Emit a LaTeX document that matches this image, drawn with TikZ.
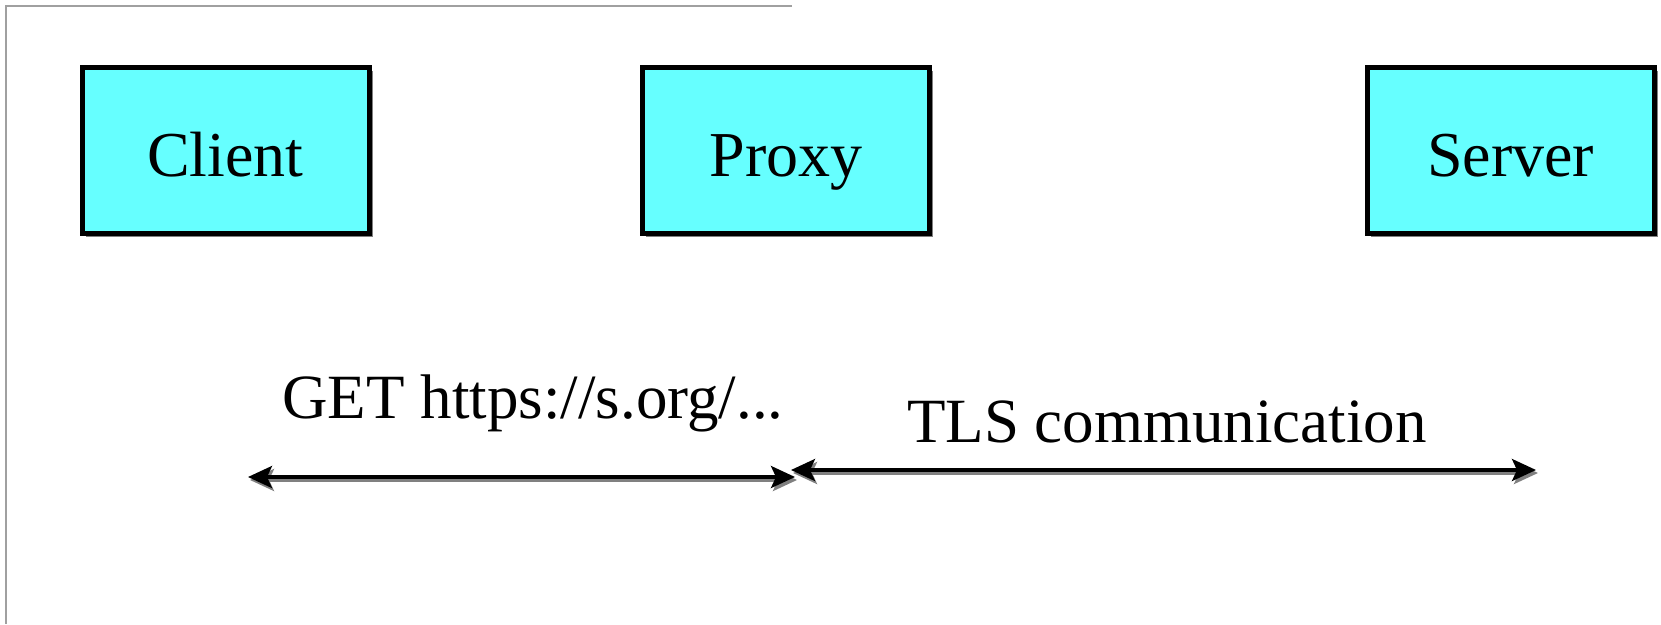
\documentclass[tikz,border=0pt]{standalone}
\usepackage{fontspec}
\setmainfont{Liberation Serif}
\usetikzlibrary{arrows.meta,shadows}
\definecolor{boxfill}{HTML}{66FFFF}
\definecolor{framegray}{HTML}{A0A0A0}
\definecolor{shade}{HTML}{808080}
\tikzset{
  party/.style={rectangle, draw=black, fill=boxfill, line width=5pt,
    minimum width=287pt, minimum height=166pt, inner sep=0pt,
    text height=52pt, text depth=0pt,
    font=\fontsize{64}{70}\selectfont,
    drop shadow={shadow xshift=3.5pt, shadow yshift=-3.5pt, fill=shade, opacity=1}},
  msg/.style={anchor=base, inner sep=0pt, font=\fontsize{63}{70}\selectfont},
  conn/.style={draw=black, line width=3.5pt,
    {Stealth[length=24pt,width=22pt,inset=5pt]}-{Stealth[length=24pt,width=22pt,inset=5pt]}},
  connshade/.style={conn, draw=shade, fill=shade},
  frameline/.style={draw=framegray, line width=2.5pt}
}
\begin{document}
\begin{tikzpicture}[x=1pt,y=-1pt]
  \useasboundingbox (0,0) rectangle (1661,624);
  % page frame
  \draw[frameline] (792,6) -- (6,6) -- (6,624);

  % parties
  \node[party] (client) at (225.5,150) {Client};
  \node[party] (proxy)  at (786,150)   {Proxy};
  \node[party] (server) at (1510.5,150) {Server};

  % message labels
  \node[msg] (getlbl) at (533,418) {GET https://s.org/...};
  \node[msg] (tlslbl) at (1167,442) {TLS communication};

  % connector end points
  \coordinate (g1) at (248,477);
  \coordinate (g2) at (795,477);
  \coordinate (t1) at (791,470);
  \coordinate (t2) at (1536,470);

  % shadows of the connectors
  \draw[connshade] ([shift={(2,3)}]g1) -- ([shift={(2,3)}]g2);
  \draw[connshade] ([shift={(2,3)}]t1) -- ([shift={(2,3)}]t2);
  % connectors
  \draw[conn] (g1) -- (g2);
  \draw[conn] (t1) -- (t2);
\end{tikzpicture}
\end{document}
